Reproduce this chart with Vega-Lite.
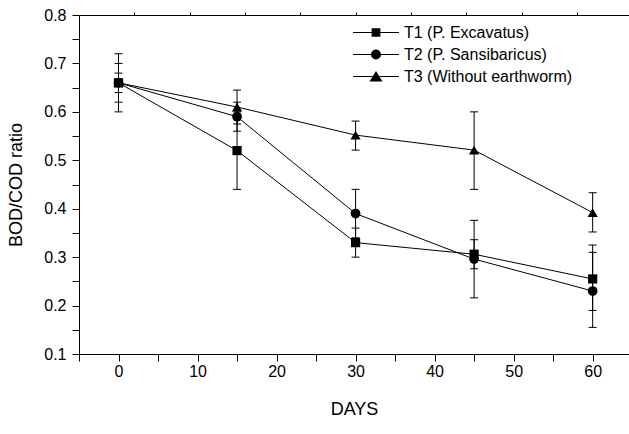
{
  "$schema": "https://vega.github.io/schema/vega-lite/v6.json",
  "width": 550,
  "height": 339,
  "autosize": {"type": "none"},
  "padding": {"left": 79, "top": 15, "right": 0, "bottom": 80},
  "config": {
    "view": {"stroke": null},
    "font": "Liberation Sans",
    "axis": {
      "labelFont": "Liberation Sans",
      "titleFont": "Liberation Sans",
      "labelFontSize": 16,
      "titleFontSize": 18,
      "titleFontWeight": "normal",
      "labelColor": "black",
      "titleColor": "black",
      "domainColor": "black",
      "tickColor": "black",
      "domainWidth": 1,
      "tickWidth": 1,
      "grid": false
    }
  },
  "data": {
    "values": [
      {"group": "T1 (P. Excavatus)", "day": 0, "value": 0.66, "lo": 0.60, "hi": 0.72},
      {"group": "T1 (P. Excavatus)", "day": 15, "value": 0.52, "lo": 0.44, "hi": 0.60},
      {"group": "T1 (P. Excavatus)", "day": 30, "value": 0.33, "lo": 0.30, "hi": 0.36},
      {"group": "T1 (P. Excavatus)", "day": 45, "value": 0.306, "lo": 0.276, "hi": 0.336},
      {"group": "T1 (P. Excavatus)", "day": 60, "value": 0.255, "lo": 0.19, "hi": 0.325},
      {"group": "T2 (P. Sansibaricus)", "day": 0, "value": 0.66, "lo": 0.64, "hi": 0.68},
      {"group": "T2 (P. Sansibaricus)", "day": 15, "value": 0.59, "lo": 0.56, "hi": 0.62},
      {"group": "T2 (P. Sansibaricus)", "day": 30, "value": 0.39, "lo": 0.34, "hi": 0.44},
      {"group": "T2 (P. Sansibaricus)", "day": 45, "value": 0.296, "lo": 0.216, "hi": 0.376},
      {"group": "T2 (P. Sansibaricus)", "day": 60, "value": 0.23, "lo": 0.155, "hi": 0.31},
      {"group": "T3 (Without earthworm)", "day": 0, "value": 0.66, "lo": 0.62, "hi": 0.70},
      {"group": "T3 (Without earthworm)", "day": 15, "value": 0.61, "lo": 0.575, "hi": 0.645},
      {"group": "T3 (Without earthworm)", "day": 30, "value": 0.552, "lo": 0.521, "hi": 0.581},
      {"group": "T3 (Without earthworm)", "day": 45, "value": 0.521, "lo": 0.44, "hi": 0.60},
      {"group": "T3 (Without earthworm)", "day": 60, "value": 0.392, "lo": 0.352, "hi": 0.433}
    ]
  },
  "layer": [
    {
      "mark": {"type": "line", "color": "black", "strokeWidth": 1},
      "encoding": {
        "x": {
          "field": "day", "type": "quantitative",
          "scale": {"domain": [-5, 64.6], "nice": false, "zero": false},
          "axis": {
            "orient": "bottom",
            "title": "DAYS",
            "values": [-5, 0, 5, 10, 15, 20, 25, 30, 35, 40, 45, 50, 55, 60],
            "labelExpr": "datum.value % 10 == 0 ? datum.label : ''",
            "format": "d",
            "tickSize": 7,
            "labelPadding": 2,
            "titlePadding": 21,
            "labelFlush": false,
            "labelOverlap": false
          }
        },
        "y": {
          "field": "value", "type": "quantitative",
          "scale": {"domain": [0.1, 0.8], "nice": false, "zero": false},
          "axis": {
            "orient": "left",
            "title": "BOD/COD ratio",
            "values": [0.1, 0.15, 0.2, 0.25, 0.3, 0.35, 0.4, 0.45, 0.5, 0.55, 0.6, 0.65, 0.7, 0.75, 0.8],
            "labelExpr": "round(datum.value * 100) % 10 == 0 ? format(datum.value, '.1f') : ''",
            "tickSize": 7,
            "labelPadding": 6,
            "titlePadding": 18,
            "labelFlush": false,
            "labelOverlap": false
          }
        },
        "detail": {"field": "group"},
        "order": {"field": "day"}
      }
    },
    {
      "mark": {"type": "rule", "color": "black", "strokeWidth": 1},
      "encoding": {
        "x": {"field": "day", "type": "quantitative", "axis": null},
        "y": {"field": "lo", "type": "quantitative", "axis": null},
        "y2": {"field": "hi"}
      }
    },
    {
      "mark": {"type": "tick", "orient": "horizontal", "size": 8, "thickness": 1, "color": "black", "opacity": 1},
      "encoding": {
        "x": {"field": "day", "type": "quantitative", "axis": null},
        "y": {"field": "lo", "type": "quantitative", "axis": null}
      }
    },
    {
      "mark": {"type": "tick", "orient": "horizontal", "size": 8, "thickness": 1, "color": "black", "opacity": 1},
      "encoding": {
        "x": {"field": "day", "type": "quantitative", "axis": null},
        "y": {"field": "hi", "type": "quantitative", "axis": null}
      }
    },
    {
      "mark": {"type": "point", "filled": true, "color": "black", "opacity": 1},
      "encoding": {
        "x": {
          "field": "day", "type": "quantitative",
          "axis": {
            "orient": "top",
            "title": null,
            "labels": false,
            "values": [2, 9, 16, 23, 30, 37, 44, 51, 58],
            "tickSize": 3
          }
        },
        "y": {"field": "value", "type": "quantitative", "axis": null},
        "shape": {
          "field": "group", "type": "nominal",
          "scale": {"domain": ["T1 (P. Excavatus)", "T2 (P. Sansibaricus)", "T3 (Without earthworm)"], "range": ["square", "circle", "triangle-up"]},
          "legend": null
        },
        "size": {
          "field": "group", "type": "nominal",
          "scale": {"domain": ["T1 (P. Excavatus)", "T2 (P. Sansibaricus)", "T3 (Without earthworm)"], "range": [85, 105, 150]},
          "legend": null
        }
      }
    },
    {
      "transform": [{"filter": "datum.day < -100"}],
      "mark": {"type": "point", "filled": true, "color": "black", "opacity": 1},
      "encoding": {
        "x": {"field": "day", "type": "quantitative", "axis": null},
        "y": {"field": "value", "type": "quantitative", "axis": null},
        "shape": {
          "field": "group", "type": "nominal",
          "scale": {
            "domain": ["T1 (P. Excavatus)", "T2 (P. Sansibaricus)", "T3 (Without earthworm)"],
            "range": [
              "M-1,-0.022H1V0.022H-1ZM-0.19,-0.19H0.19V0.19H-0.19Z",
              "M-1,-0.022H1V0.022H-1ZM0.215,0A0.215,0.215,0,1,1,-0.215,0A0.215,0.215,0,1,1,0.215,0Z",
              "M-1,-0.022H1V0.022H-1ZM0,-0.24L0.28,0.22H-0.28Z"
            ]
          },
          "legend": {
            "orient": "none",
            "legendX": 274,
            "legendY": 7,
            "title": null,
            "symbolSize": 2116,
            "clipHeight": 21,
            "rowPadding": 1,
            "padding": 0,
            "symbolOffset": 0,
            "labelOffset": 5,
            "labelLimit": 400,
            "labelFont": "Liberation Sans",
            "labelFontSize": 16,
            "labelColor": "black",
            "symbolStrokeWidth": 0,
            "symbolFillColor": "black",
            "symbolOpacity": 1
          }
        }
      }
    }
  ],
  "resolve": {
    "axis": {"x": "independent", "y": "independent"},
    "scale": {"shape": "independent", "size": "independent"}
  }
}
